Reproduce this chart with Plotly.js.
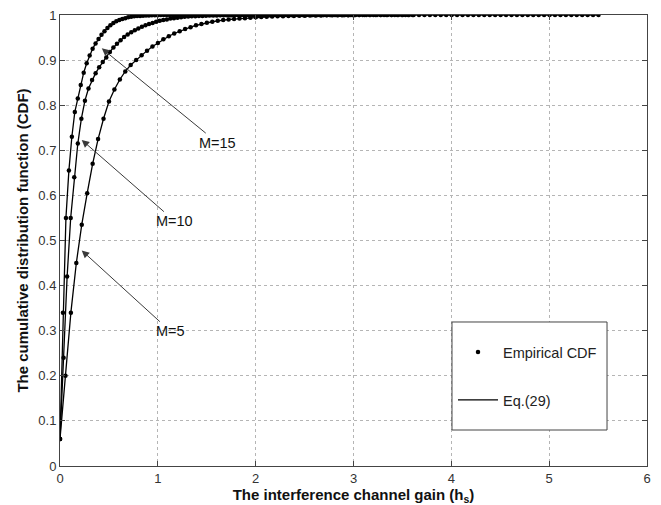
<!DOCTYPE html>
<html>
<head>
<meta charset="utf-8">
<script src="https://cdn.plot.ly/plotly-3.0.1.min.js"></script>
<style>html,body{margin:0;padding:0;background:#fff;}#chart{width:661px;height:505px;}</style>
</head>
<body>
<div id="chart"></div>
<script>
// Empirical / Eq.(29) CDF values, sampled on uniform grids starting at 0
const m5_x0 = 0, m5_dx = 0.0556;
const m5_cdf = [0.06,0.20,0.34,0.45,0.535,0.605,0.67,0.725,0.77,0.808,
 0.835,0.857,0.875,0.889,0.90,0.911,0.921,0.93,0.938,0.946,
 0.953,0.959,0.964,0.969,0.973,0.977,0.980,0.983,0.985,0.987,
 0.989,0.990,0.991,0.992,0.993,0.994,0.995,0.9955,0.996,0.9965,
 0.997,0.9975,0.998,0.998,0.9985,0.9985,0.999,0.999,0.999,0.9993,
 0.9995,0.9995,0.9996,0.9997,0.9997,0.9998,0.9998,0.9999,0.9999,1,
 1,1,1,1,1,1,1,1,1,1,
 1,1,1,1,1,1,1,1,1,1,
 1,1,1,1,1,1,1,1,1,1,
 1,1,1,1,1,1,1,1,1,1];

const m10_x0 = 0, m10_dx = 0.0364;
const m10_cdf = [0.06,0.24,0.42,0.55,0.64,0.715,0.77,0.81,0.837,0.856,
 0.871,0.884,0.896,0.906,0.918,0.928,0.936,0.944,0.951,0.957,
 0.962,0.966,0.970,0.974,0.977,0.980,0.982,0.985,0.987,0.989,
 0.990,0.992,0.993,0.994,0.995,0.996,0.9965,0.997,0.9975,0.998,
 0.998,0.9985,0.9988,0.999,0.999,0.9993,0.9995,0.9996,0.9997,0.9998,
 0.9999,1,1,1,1,1,1,1,1,1,
 1,1,1,1,1,1,1,1,1,1,
 1,1,1,1,1,1,1,1,1,1,
 1,1,1,1,1,1,1,1,1,1,
 1,1,1,1,1,1,1,1,1,1];

const m15_x0 = 0, m15_dx = 0.0303;
const m15_cdf = [0.06,0.34,0.55,0.655,0.73,0.785,0.815,0.845,0.872,0.893,
 0.91,0.925,0.937,0.947,0.956,0.964,0.971,0.977,0.982,0.986,
 0.989,0.991,0.993,0.995,0.996,0.997,0.998,0.998,0.9985,0.999,
 0.999,0.9993,0.9995,0.9997,0.9998,0.9999,1,1,1,1,
 1,1,1,1,1,1,1,1,1,1,
 1,1,1,1,1,1,1,1,1,1,
 1,1,1,1,1,1,1,1,1,1,
 1,1,1,1,1,1,1,1,1,1,
 1,1,1,1,1,1,1,1,1,1,
 1,1,1,1,1,1,1,1,1,1];

const seriesNames = ['M=5','M=10','M=15'];
const legendNames = ['Empirical CDF','Eq.(29)'];
const xTicks = [0,1,2,3,4,5,6];
const yTicks = [0,0.1,0.2,0.3,0.4,0.5,0.6,0.7,0.8,0.9,1];
const yTickText = ['0','0.1','0.2','0.3','0.4','0.5','0.6','0.7','0.8','0.9','1'];

const sets = [[m5_x0,m5_dx,m5_cdf],[m10_x0,m10_dx,m10_cdf],[m15_x0,m15_dx,m15_cdf]];
const FONT = 'Liberation Sans, Arial, Helvetica, sans-serif';

const traces = [];
sets.forEach((s,i)=>{
  traces.push({type:'scatter', mode:'markers', x0:s[0], dx:s[1], y:s[2],
    marker:{color:'#000', size:4.5, symbol:'circle'}, name:legendNames[0], legendgroup:'a',
    showlegend:i===0, hoverinfo:'skip'});
});
sets.forEach((s,i)=>{
  traces.push({type:'scatter', mode:'lines', x0:s[0], dx:s[1], y:s[2],
    line:{color:'#000', width:1.3}, name:legendNames[1], legendgroup:'b',
    showlegend:i===0, hoverinfo:'skip'});
});

const annFont = {family:FONT, size:14.5, color:'#111'};
function ann(text, x, y, ax, ay){
  return {text:text, x:x, y:y, ax:ax, ay:ay, xref:'x', yref:'y', axref:'x', ayref:'y',
    showarrow:true, arrowhead:2, arrowsize:1.5, arrowwidth:1, arrowcolor:'#3a3a3a',
    font:annFont, standoff:0};
}

const layout = {
  width:661, height:505,
  margin:{l:60, r:14, t:15, b:39},
  paper_bgcolor:'#fff', plot_bgcolor:'#fff',
  font:{family:FONT, color:'#222'},
  showlegend:true,
  xaxis:{range:[0,6], tickvals:xTicks, ticks:'inside', ticklen:5, tickcolor:'#444',
    showline:true, linecolor:'#444', linewidth:1, mirror:'ticks',
    showgrid:true, gridcolor:'#b5b5b5', griddash:'dot', gridwidth:1, zeroline:false,
    tickfont:{family:FONT, size:13, color:'#333'},
    title:{text:'<b>The interference channel gain (h<sub>s</sub>)</b>', font:{family:FONT, size:15, color:'#111'}, standoff:4}},
  yaxis:{range:[0,1], tickvals:yTicks, ticktext:yTickText, ticks:'inside', ticklen:5, tickcolor:'#444',
    showline:true, linecolor:'#444', linewidth:1, mirror:'ticks',
    showgrid:true, gridcolor:'#b5b5b5', griddash:'dot', gridwidth:1, zeroline:false,
    tickfont:{family:FONT, size:13, color:'#333'},
    title:{text:'<b>The cumulative distribution function (CDF)</b>', font:{family:FONT, size:15, color:'#111'}, standoff:6}},
  legend:{x:0.6695, xanchor:'left', y:0.288, yanchor:'top', bgcolor:'rgba(0,0,0,0)', borderwidth:0,
    font:{family:FONT, size:14.5, color:'#222'}, itemwidth:40, tracegroupgap:26, traceorder:'grouped'},
  shapes:[{type:'rect', xref:'paper', yref:'paper', x0:0.6678, x1:0.9319, y0:0.0798, y1:0.3193,
    line:{color:'#444', width:1}, fillcolor:'#fff', layer:'above'}],
  annotations:[
    ann('M=15', 0.427, 0.926, 1.609, 0.717),
    ann('M=10', 0.222, 0.723, 1.173, 0.543),
    ann('M=5', 0.222, 0.478, 1.127, 0.299)
  ]
};

Plotly.newPlot('chart', traces, layout, {staticPlot:true, displayModeBar:false});
</script>
</body>
</html>
